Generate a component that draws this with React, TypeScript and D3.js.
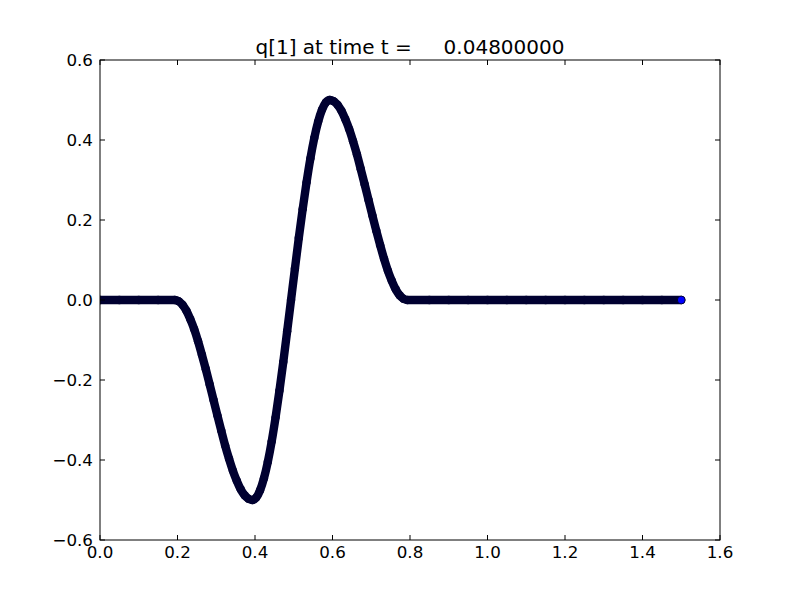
import React from "react";
import * as d3 from "d3";

// x ticks and y ticks
const xTicks = [0.0, 0.2, 0.4, 0.6, 0.8, 1.0, 1.2, 1.4, 1.6];
const yTicks = [-0.6, -0.4, -0.2, 0.0, 0.2, 0.4, 0.6];

// flat region before the pulse
const leftX = [0.0, 0.05, 0.1, 0.15];
const leftY = [0, 0, 0, 0];

// pulse region, x from 0.193 in steps of 0.01
const pulseStart = 0.193;
const pulseStep = 0.01;
const pulseY = [
  0.0, -0.003, -0.012, -0.027, -0.048, -0.073, -0.103, -0.137, -0.173, -0.211,
  -0.25, -0.289, -0.327, -0.364, -0.397, -0.427, -0.452, -0.473, -0.488, -0.497,
  -0.5, -0.494, -0.476, -0.446, -0.405, -0.354, -0.294, -0.227, -0.155, -0.078,
  0.0, 0.078, 0.155, 0.227, 0.294, 0.354, 0.405, 0.446, 0.476, 0.494,
  0.5, 0.497, 0.488, 0.473, 0.452, 0.427, 0.397, 0.364, 0.327, 0.289,
  0.25, 0.211, 0.173, 0.137, 0.103, 0.073, 0.048, 0.027, 0.012, 0.003,
  0.0,
];

// flat region after the pulse
const rightX = [0.85, 0.9, 0.95, 1.0, 1.05, 1.1, 1.15, 1.2, 1.25, 1.3, 1.35, 1.4, 1.45, 1.5];
const rightY = [0, 0, 0, 0, 0, 0, 0, 0, 0, 0, 0, 0, 0, 0];

const titleText = "q[1] at time t =     0.04800000";

const W = 800;
const H = 600;
const L = 100, R = 720, T = 60, B = 540;

export default function App() {
  const x = d3.scaleLinear().domain([0, 1.6]).range([L, R]);
  const y = d3.scaleLinear().domain([-0.6, 0.6]).range([B, T]);

  const pts: [number, number][] = [];
  leftX.forEach((v, i) => pts.push([v, leftY[i]]));
  pulseY.forEach((v, i) => pts.push([pulseStart + i * pulseStep, v]));
  rightX.forEach((v, i) => pts.push([v, rightY[i]]));

  const line = d3
    .line<[number, number]>()
    .x((d) => x(d[0]))
    .y((d) => y(d[1]))
    .curve(d3.curveMonotoneX);

  const last = pts[pts.length - 1];
  const dark = "#000030";
  const tick = 5;
  const font = "DejaVu Sans";
  const fmt = (v: number) => (v < 0 ? "\u2212" : "") + Math.abs(v).toFixed(1);

  return (
    <svg width={W} height={H} style={{ position: "absolute", left: 0, top: 0, background: "#fff" }}>
      <rect x={0} y={0} width={W} height={H} fill="#fff" />
      <defs>
        <clipPath id="plotclip">
          <rect x={L} y={T} width={R - L} height={B - T} />
        </clipPath>
      </defs>
      <g clipPath="url(#plotclip)">
        <path
          d={line(pts) || ""}
          fill="none"
          stroke={dark}
          strokeWidth={8.4}
          strokeLinecap="round"
          strokeLinejoin="round"
        />
        {pts.slice(0, -1).map((d, i) => (
          <circle key={i} cx={x(d[0])} cy={y(d[1])} r={4.2} fill={dark} />
        ))}
        <circle cx={x(last[0])} cy={y(last[1])} r={3.9} fill="#0000ff" stroke="#000" strokeWidth={0.7} />
      </g>
      <rect x={L} y={T} width={R - L} height={B - T} fill="none" stroke="#000" strokeWidth={1} />
      {xTicks.map((v) => (
        <g key={"x" + v}>
          <line x1={x(v)} x2={x(v)} y1={B} y2={B - tick} stroke="#000" />
          <line x1={x(v)} x2={x(v)} y1={T} y2={T + tick} stroke="#000" />
          <text x={x(v)} y={558} textAnchor="middle" fontFamily={font} fontSize={16.7} fill="#000">
            {fmt(v)}
          </text>
        </g>
      ))}
      {yTicks.map((v) => (
        <g key={"y" + v}>
          <line x1={L} x2={L + tick} y1={y(v)} y2={y(v)} stroke="#000" />
          <line x1={R} x2={R - tick} y1={y(v)} y2={y(v)} stroke="#000" />
          <text x={93} y={y(v) + 6} textAnchor="end" fontFamily={font} fontSize={16.7} fill="#000">
            {fmt(v)}
          </text>
        </g>
      ))}
      <text
        x={(L + R) / 2}
        y={54}
        textAnchor="middle"
        fontFamily={font}
        fontSize={20}
        fill="#000"
        style={{ whiteSpace: "pre" }}
        xmlSpace="preserve"
      >
        {titleText}
      </text>
    </svg>
  );
}
